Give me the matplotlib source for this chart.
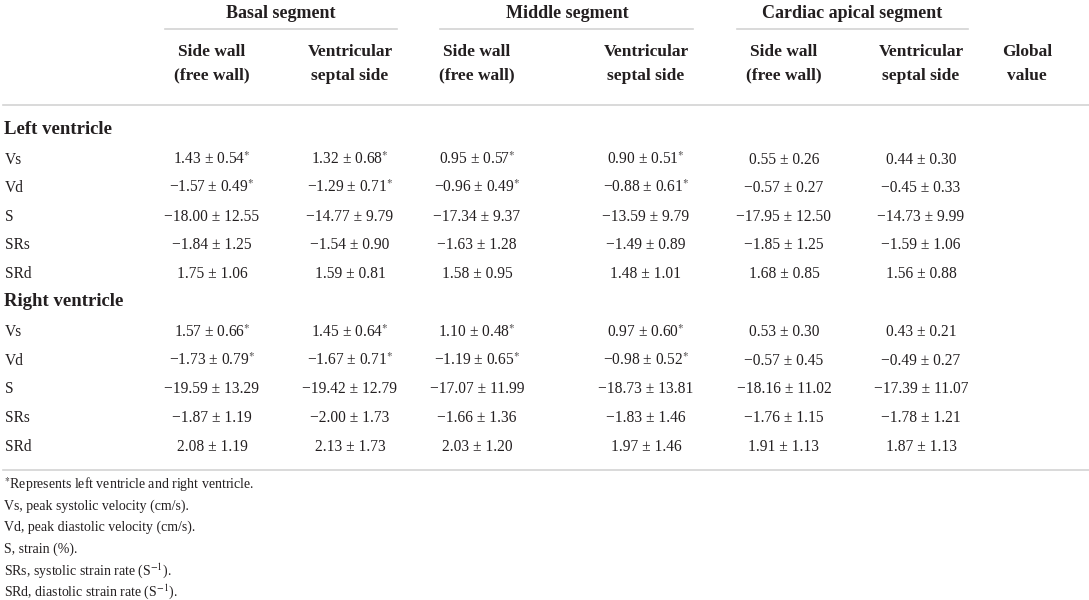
import matplotlib.pyplot as plt
import numpy as np

plt.rcParams['font.family'] = ['Liberation Serif', 'DejaVu Serif']
plt.rcParams['mathtext.fontset'] = 'stix'

# 表头
groups = ["Basal segment", "Middle segment", "Cardiac apical segment"]
sub_headers = ["Side wall\n(free wall)", "Ventricular\nseptal side"] * 3 + ["Global\nvalue"]
row_labels = ["Vs", "Vd", "S", "SRs", "SRd"]
sections = ["Left ventricle", "Right ventricle"]

# 数据（均值、标准差）
lv_mean = [[1.43, 1.32, 0.95, 0.90, 0.55, 0.44],
           [-1.57, -1.29, -0.96, -0.88, -0.57, -0.45],
           [-18.00, -14.77, -17.34, -13.59, -17.95, -14.73],
           [-1.84, -1.54, -1.63, -1.49, -1.85, -1.59],
           [1.75, 1.59, 1.58, 1.48, 1.68, 1.56]]
lv_sd = [[0.54, 0.68, 0.57, 0.51, 0.26, 0.30],
         [0.49, 0.71, 0.49, 0.61, 0.27, 0.33],
         [12.55, 9.79, 9.37, 9.79, 12.50, 9.99],
         [1.25, 0.90, 1.28, 0.89, 1.25, 1.06],
         [1.06, 0.81, 0.95, 1.01, 0.85, 0.88]]
rv_mean = [[1.57, 1.45, 1.10, 0.97, 0.53, 0.43],
           [-1.73, -1.67, -1.19, -0.98, -0.57, -0.49],
           [-19.59, -19.42, -17.07, -18.73, -18.16, -17.39],
           [-1.87, -2.00, -1.66, -1.83, -1.76, -1.78],
           [2.08, 2.13, 2.03, 1.97, 1.91, 1.87]]
rv_sd = [[0.66, 0.64, 0.48, 0.60, 0.30, 0.21],
         [0.79, 0.71, 0.65, 0.52, 0.45, 0.27],
         [13.29, 12.79, 11.99, 13.81, 11.02, 11.07],
         [1.19, 1.73, 1.36, 1.46, 1.15, 1.21],
         [1.19, 1.73, 1.20, 1.46, 1.13, 1.13]]
# 显著性标记（行 Vs、Vd 的前四列）
star_rows = [0, 1]
star_cols = [0, 1, 2, 3]

footnotes = ["$^{*}$Represents left ventricle and right ventricle.",
             "Vs, peak systolic velocity (cm/s).",
             "Vd, peak diastolic velocity (cm/s).",
             "S, strain (%).",
             "SRs, systolic strain rate (S$^{-1}$).",
             "SRd, diastolic strain rate (S$^{-1}$)."]

# 布局（像素）
W, H = 1089, 600
col_x = [212, 350, 477, 646, 784, 921, 1027]
group_x = [281, 567, 852]
group_span = [(165, 397), (440, 693), (737, 968)]
line_color = "#d3d3d3"
txt_color = "#231f20"


def fmt(m, s, star):
    ms = f"{abs(m):.2f}"
    if m < 0:
        ms = "\u2212" + ms
    t = f"{ms} \u00b1 {s:.2f}"
    if star:
        t += "$^{*}$"
    return t


fig = plt.figure(figsize=(W / 100, H / 100), dpi=100)
ax = fig.add_axes([0, 0, 1, 1])
ax.set_xlim(0, W)
ax.set_ylim(H, 0)
ax.axis("off")

# 分组标题
for g, gx, (x0, x1) in zip(groups, group_x, group_span):
    ax.text(gx, 13, g, ha="center", va="center", fontsize=13, fontweight="bold", color=txt_color)
    ax.plot([x0, x1], [29, 29], color=line_color, lw=1.2)

# 子标题
for h, cx in zip(sub_headers, col_x):
    ax.text(cx, 64, h, ha="center", va="center", fontsize=12.5, fontweight="bold",
            color=txt_color, linespacing=1.6)

ax.plot([3, W], [105, 105], color=line_color, lw=1.2)

# 数据行
row_step = 28.6
y = 129
for sec, means, sds in zip(sections, [lv_mean, rv_mean], [lv_sd, rv_sd]):
    ax.text(4, y, sec, ha="left", va="center", fontsize=13.5, fontweight="bold", color=txt_color)
    y += row_step + 2
    for i, lab in enumerate(row_labels):
        ax.text(5, y, lab, ha="left", va="center", fontsize=11.2, color=txt_color)
        for j in range(6):
            star = (i in star_rows) and (j in star_cols)
            ax.text(col_x[j], y, fmt(means[i][j], sds[i][j], star), ha="center", va="center",
                    fontsize=11.2, color=txt_color)
        y += row_step
    y -= 1

ax.plot([3, W], [470, 470], color=line_color, lw=1.2)

# 脚注
for k, fn in enumerate(footnotes):
    ax.text(4, 485 + k * 21.3, fn, ha="left", va="center", fontsize=10, color=txt_color)

fig.savefig("out.png", dpi=100)
